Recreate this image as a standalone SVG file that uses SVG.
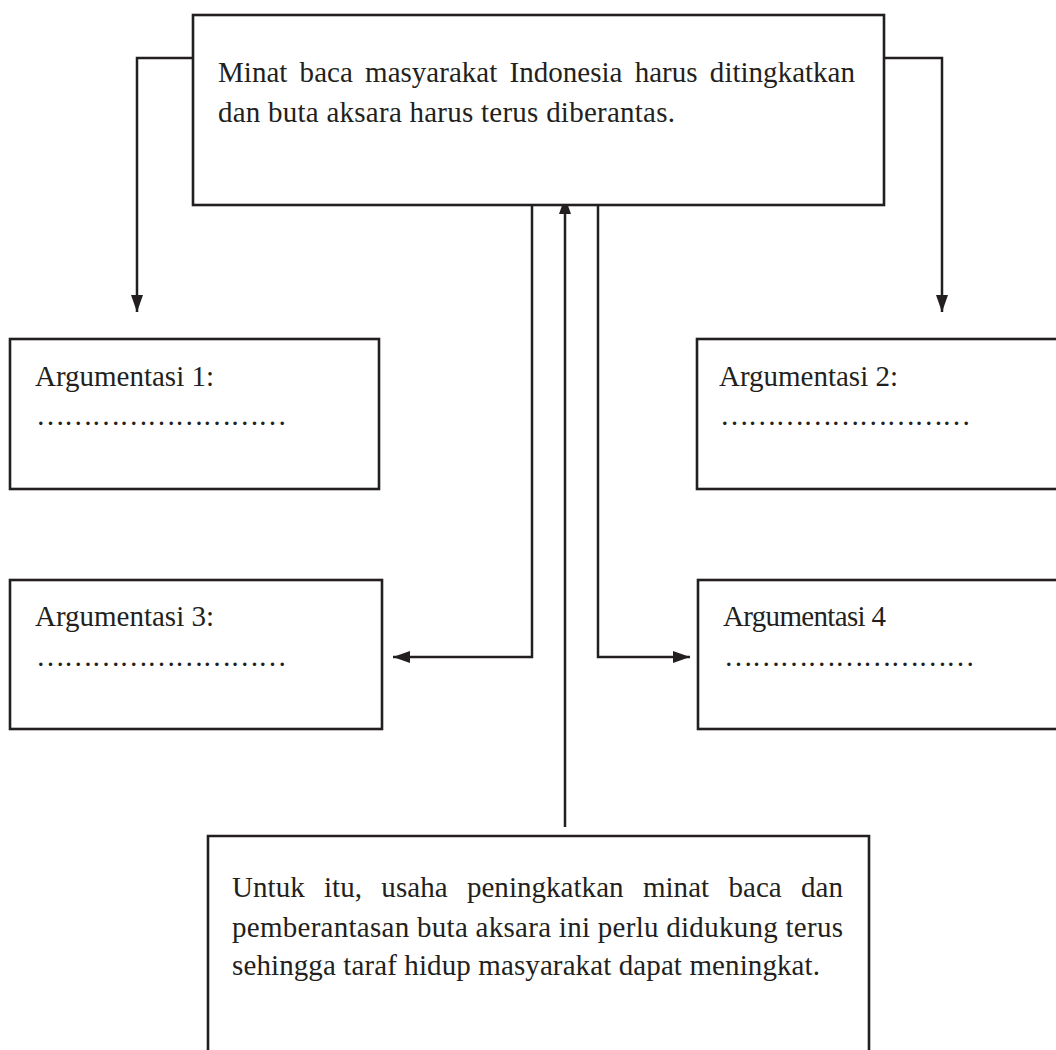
<svg xmlns="http://www.w3.org/2000/svg" width="1056" height="1050" viewBox="0 0 1056 1050">
<style>
.box{fill:#fff;stroke:#231f20;stroke-width:2.6}
.ln{fill:none;stroke:#231f20;stroke-width:2.5}
.t{font-family:"Liberation Serif","Times New Roman",serif;font-size:29px;fill:#231f20}
</style>
<defs>
<marker id="ah" viewBox="0 0 17 12" refX="17" refY="6" markerWidth="17" markerHeight="12" markerUnits="userSpaceOnUse" orient="auto">
<path d="M0,0 L17,6 L0,12 Z" fill="#231f20"/>
</marker>
</defs>
<rect width="1056" height="1050" fill="#fff"/>
<g id="connectors">
<path class="ln" d="M193,58 H137 V312" marker-end="url(#ah)"/>
<path class="ln" d="M884,58 H942 V312" marker-end="url(#ah)"/>
<path class="ln" d="M532,198 V657 H393" marker-end="url(#ah)"/>
<path class="ln" d="M598,198 V657 H690" marker-end="url(#ah)"/>
<path class="ln" d="M565,827 V197" marker-end="url(#ah)"/>
</g>
<g id="top">
<rect class="box" x="193" y="15" width="691" height="190"/>
<text class="t" x="218" y="82" word-spacing="5" textLength="637" lengthAdjust="spacing">Minat baca masyarakat Indonesia harus ditingkatkan</text>
<text class="t" x="218" y="122" textLength="457" lengthAdjust="spacing">dan buta aksara harus terus diberantas.</text>
</g>
<g id="arg1">
<rect class="box" x="10" y="339" width="369" height="150"/>
<text class="t" x="35" y="386" textLength="179" lengthAdjust="spacing">Argumentasi 1:</text>
<text class="t" x="36" y="425" textLength="251" lengthAdjust="spacing">………………………</text>
</g>
<g id="arg2">
<rect class="box" x="697" y="339" width="400" height="150"/>
<text class="t" x="719" y="386" textLength="179" lengthAdjust="spacing">Argumentasi 2:</text>
<text class="t" x="720" y="425" textLength="251" lengthAdjust="spacing">………………………</text>
</g>
<g id="arg3">
<rect class="box" x="10" y="580" width="372" height="149"/>
<text class="t" x="35" y="626" textLength="179" lengthAdjust="spacing">Argumentasi 3:</text>
<text class="t" x="36" y="666" textLength="251" lengthAdjust="spacing">………………………</text>
</g>
<g id="arg4">
<rect class="box" x="698" y="580" width="400" height="149"/>
<text class="t" x="723" y="626" textLength="163" lengthAdjust="spacing">Argumentasi 4</text>
<text class="t" x="724" y="666" textLength="251" lengthAdjust="spacing">………………………</text>
</g>
<g id="bottom">
<path class="box" d="M208,1060 V836 H869 V1060"/>
<text class="t" x="232" y="897" word-spacing="12" textLength="611" lengthAdjust="spacing">Untuk itu, usaha peningkatkan minat baca dan</text>
<text class="t" x="232" y="937" textLength="611" lengthAdjust="spacing">pemberantasan buta aksara ini perlu didukung terus</text>
<text class="t" x="232" y="975" textLength="588" lengthAdjust="spacing">sehingga taraf hidup masyarakat dapat meningkat.</text>
</g>
</svg>
